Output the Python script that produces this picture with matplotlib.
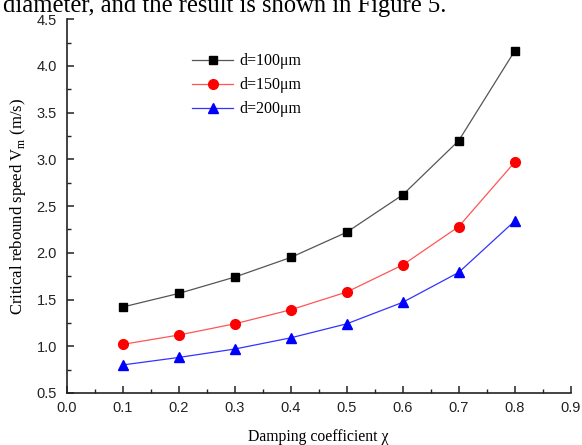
import matplotlib
matplotlib.use("Agg")
import matplotlib.pyplot as plt
from matplotlib.ticker import MultipleLocator

chi = [0.1, 0.2, 0.3, 0.4, 0.5, 0.6, 0.7, 0.8]
v_100 = [1.42, 1.565, 1.74, 1.95, 2.22, 2.62, 3.20, 4.16]
v_150 = [1.02, 1.12, 1.24, 1.39, 1.58, 1.87, 2.28, 2.97]
v_200 = [0.80, 0.88, 0.97, 1.09, 1.24, 1.47, 1.79, 2.34]
labels = ["d=100\u03bcm", "d=150\u03bcm", "d=200\u03bcm"]

fig = plt.figure(figsize=(5.82, 4.45), dpi=100)
ax = fig.add_axes([0.1146, 0.1169, 0.866, 0.840])

ax.plot(chi, v_100, color="#555555", lw=0.9, marker="s", ms=6.3,
        mfc="black", mec="black", label=labels[0])
ax.plot(chi, v_150, color="#ff5555", lw=0.9, marker="o", ms=7,
        mfc="red", mec="red", label=labels[1])
ax.plot(chi, v_200, color="#3333ff", lw=0.9, marker="^", ms=7.5,
        mfc="blue", mec="blue", label=labels[2])

ax.set_xlim(0, 0.9)
ax.set_ylim(0.5, 4.5)
ax.xaxis.set_major_locator(MultipleLocator(0.1))
ax.xaxis.set_minor_locator(MultipleLocator(0.05))
ax.yaxis.set_major_locator(MultipleLocator(0.5))
ax.yaxis.set_minor_locator(MultipleLocator(0.25))
ax.spines["top"].set_visible(False)
ax.spines["right"].set_visible(False)
for s in ("left", "bottom"):
    ax.spines[s].set_linewidth(1.2)
    ax.spines[s].set_color("#222222")
ax.tick_params(which="major", direction="in", length=5, width=1.1,
               labelsize=10.5, colors="#222222")
ax.tick_params(axis="x", which="major", pad=6)
ax.tick_params(axis="y", which="major", pad=7)
ax.tick_params(which="minor", direction="in", length=3, width=1.0, colors="#222222")
for t in ax.get_xticklabels() + ax.get_yticklabels():
    t.set_family("Liberation Sans")

ax.set_xlabel("Damping coefficient \u03c7", family="Liberation Serif",
              fontsize=11.3, labelpad=10)
ax.set_ylabel("Critical rebound speed V$_\\mathregular{m}$ (m/s)",
              family="Liberation Serif", fontsize=12, labelpad=6)

leg = ax.legend(loc="upper left", bbox_to_anchor=(0.22, 0.947), frameon=False,
                prop={"family": "Liberation Serif", "size": 11.5},
                handlelength=2.6, labelspacing=0.5, handletextpad=0.4)

fig.text(0.005, 1.012, "diameter, and the result is shown in Figure 5.",
         family="Liberation Serif", fontsize=17.7, va="top", ha="left")

fig.savefig("out.png", dpi=100)
